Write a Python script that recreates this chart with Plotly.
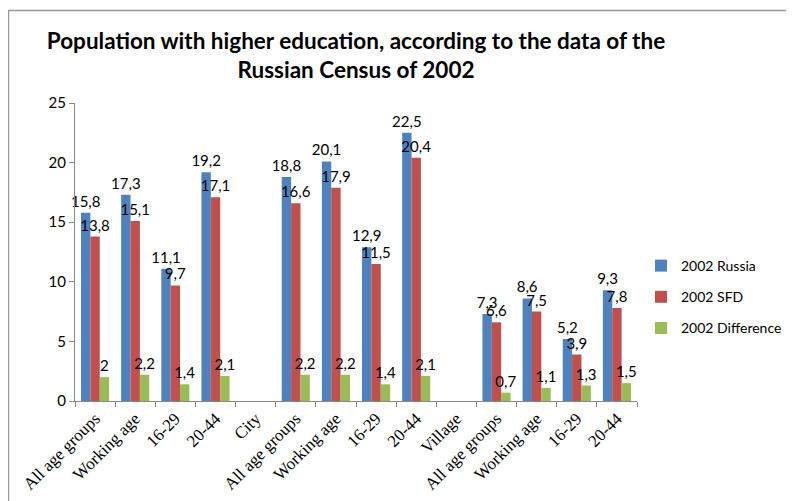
import plotly.graph_objects as go

categories = ["All age groups", "Working age", "16-29", "20-44", "City",
              "All age groups", "Working age", "16-29", "20-44", "Village",
              "All age groups", "Working age", "16-29", "20-44"]
russia = [15.8, 17.3, 11.1, 19.2, None, 18.8, 20.1, 12.9, 22.5, None, 7.3, 8.6, 5.2, 9.3]
sfd = [13.8, 15.1, 9.7, 17.1, None, 16.6, 17.9, 11.5, 20.4, None, 6.6, 7.5, 3.9, 7.8]
diff = [2, 2.2, 1.4, 2.1, None, 2.2, 2.2, 1.4, 2.1, None, 0.7, 1.1, 1.3, 1.5]
series_names = ["2002 Russia", "2002 SFD", "2002 Difference"]
colors = ["#4F81BD", "#C0504D", "#9BBB59"]

ids = ["c%d" % i for i in range(len(categories))]


def lab(v):
    if v is None:
        return ""
    return ("%g" % v).replace(".", ",")


fig = go.Figure()
for name, vals, col in zip(series_names, [russia, sfd, diff], colors):
    fig.add_trace(go.Bar(
        x=ids, y=vals, name=name, marker_color=col,
        marker_line_width=0, legendgroup=name,
        text=[lab(v) for v in vals], textposition="outside",
        constraintext="none",
        textfont=dict(family="Lato, Open Sans, sans-serif", size=15, color="black"),
        cliponaxis=False,
    ))

# page has an 8px body margin: figure origin sits at page (8, 8)
OFF = 8
W, H = 794 - OFF, 501 - OFF
l, r, t, b = 75 - OFF, 794 - 637, 103 - OFF, 501 - 401
pw, ph = W - l - r, H - t - b


def px_x(x):  # page pixel -> paper
    return (x - OFF - l) / pw


def px_y(y):
    return (H - b - (y - OFF)) / ph


fig.update_layout(
    width=W, height=H,
    margin=dict(l=l, r=r, t=t, b=b, autoexpand=False),
    paper_bgcolor="white", plot_bgcolor="white",
    barmode="group", bargap=0.3, bargroupgap=0,
    title=dict(
        text="Population with higher education, according to the data of the<br>Russian Census of 2002",
        x=0.5, xref="paper", xanchor="center", y=(H - (49 - OFF)) / H, yanchor="middle",
        font=dict(family="Lato, Open Sans, sans-serif", size=22.5, color="black", weight="bold"),
    ),
    showlegend=True,
    legend=dict(
        x=px_x(641), y=px_y(250), xanchor="left", yanchor="top",
        font=dict(family="Lato, Open Sans, sans-serif", size=14, color="black"),
        itemwidth=30, tracegroupgap=10, bgcolor="rgba(0,0,0,0)",
    ),
    xaxis=dict(
        type="category", tickvals=ids, ticktext=categories,
        tickangle=-45, tickson="boundaries",
        ticks="outside", ticklen=5, tickcolor="#888888",
        showline=True, linecolor="#888888", linewidth=1,
        showgrid=False, zeroline=False,
        tickfont=dict(family="Liberation Serif, Times New Roman, serif", size=17, color="black"),
    ),
    yaxis=dict(
        range=[0, 25], dtick=5, ticks="outside", ticklen=5, tickcolor="#888888",
        showline=True, linecolor="#888888", linewidth=1,
        showgrid=False, zeroline=False,
        tickfont=dict(family="Lato, Open Sans, sans-serif", size=15, color="black"),
    ),
    shapes=[dict(
        type="rect", xref="paper", yref="paper",
        x0=px_x(8.5), x1=px_x(810), y0=px_y(520), y1=px_y(10.5),
        line=dict(color="#999999", width=1.5), fillcolor="rgba(0,0,0,0)", layer="below",
    )],
)

fig.write_html("out.html")
